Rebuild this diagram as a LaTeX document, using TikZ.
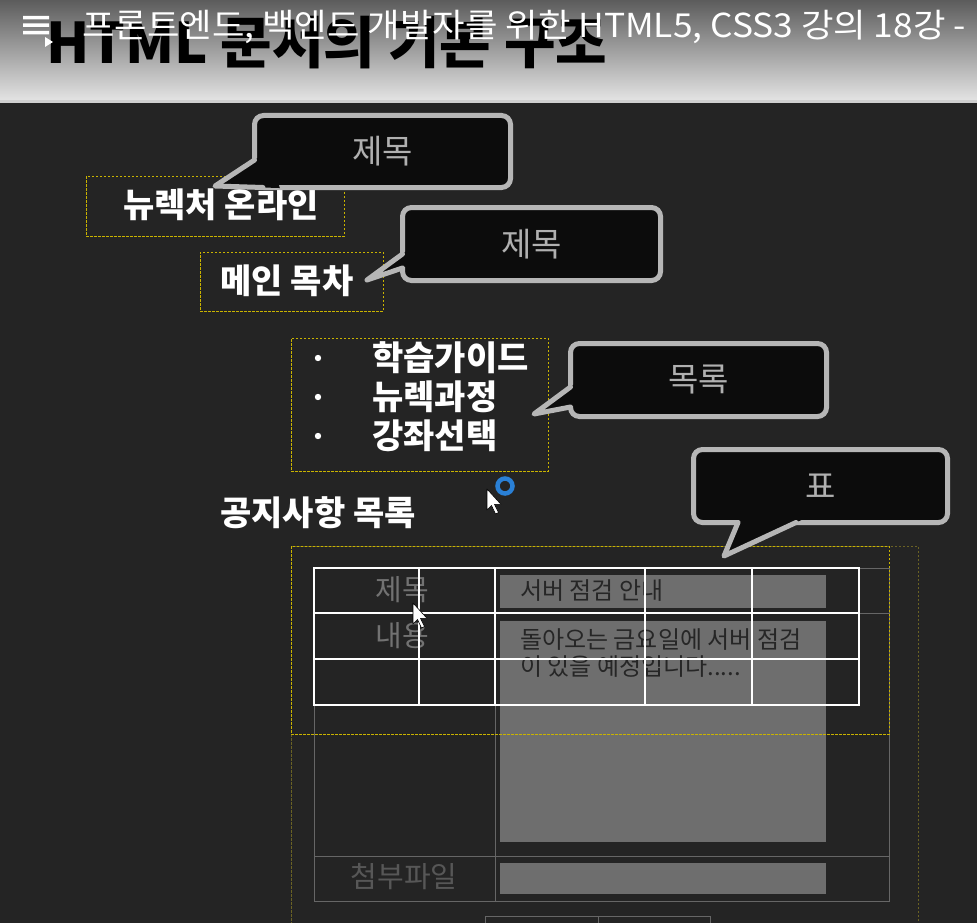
\documentclass[tikz,border=0pt]{standalone}
\usepackage{fontspec}
\setmainfont{Noto Sans CJK KR}
\usetikzlibrary{calc}
\newcommand\myfs[1]{\fontsize{#1}{#1}\selectfont}
\definecolor{bg}{HTML}{242424}
\definecolor{tbtop}{HTML}{5C5C5C}
\definecolor{tbbot}{HTML}{E4E4E4}
\definecolor{tbline}{HTML}{CFCFCF}
\definecolor{cfill}{HTML}{0C0C0C}
\definecolor{cborder}{HTML}{B6B6B6}
\definecolor{ctext}{HTML}{B0B0B0}
\definecolor{ylw}{HTML}{C9B300}
\definecolor{ylwdim}{HTML}{6A6224}
\definecolor{gln}{HTML}{666666}
\definecolor{gfld}{HTML}{6E6E6E}
\definecolor{glab}{HTML}{727272}
\definecolor{ftx}{HTML}{262626}
\definecolor{ringblue}{HTML}{2A80D6}
\newcommand\ctail[3]{%
  \fill[cfill] (#2) -- ($(#2)!1.35!(#1)$) -- ($(#2)!1.35!(#3)$) -- cycle;
  \draw[cborder, line width=5pt, line join=round, line cap=round] (#1) -- (#2) -- (#3);
}
\begin{document}
\begin{tikzpicture}[x=1pt,y=-1pt,
  callout/.style={fill=cfill, draw=cborder, line width=5pt, rounded corners=9pt, inner sep=0pt, text=ctext, font=\myfs{33}},
  ybox/.style={draw=ylw, line width=0.9pt, dash pattern=on 2.5pt off 1.5pt, inner sep=0pt},
  wtxt/.style={text=white, font=\myfs{34}\bfseries, inner sep=0pt},
  glabel/.style={text=glab, font=\myfs{29}, inner sep=0pt},
  ftext/.style={text=ftx, font=\myfs{24}, inner sep=0pt, anchor=west},
  gline/.style={draw=gln, line width=1pt},
  wline/.style={draw=white, line width=1.4pt},
  gfield/.style={fill=gfld},
  cursor/.style={fill=white, draw=black, line width=0.6pt, line join=round},
]
\useasboundingbox (0,0) rectangle (977,923);
\clip (0,0) rectangle (977,923);
\fill[bg] (0,0) rectangle (977,923);
% top bar
\shade[top color=tbtop, bottom color=tbbot] (0,0) rectangle (977,101);
\fill[tbline] (0,100) rectangle (977,103);
\node[anchor=base west, inner sep=0pt, text=black, font=\myfs{56}\bfseries] (bigtitle) at (46,64) {HTML 문서의 기본 구조};
\node[anchor=base west, inner sep=0pt, text=white, font=\myfs{33}] (ytitle) at (82,38) {\scalebox{1.07}[1]{프론트엔드, 백엔드 개발자를 위한 HTML5, CSS3 강의 18강 -}};
\fill[white] (23,16) rectangle (49,19.5) (23,23.5) rectangle (49,27) (23,31) rectangle (49,34.5);
\fill[white] (45,37) -- (45,47) -- (53,42) -- cycle;

% gray form (background)
\fill[gfield] (500,575) rectangle (826,608);
\fill[gfield] (500,621) rectangle (826,842);
\fill[gfield] (500,863) rectangle (826,894);
\draw[gline] (314,568) rectangle (889,901);
\draw[gline] (495,568) -- (495,901);
\draw[gline] (314,613) -- (889,613);
\draw[gline] (314,856) -- (889,856);
\draw[gline] (485,916) rectangle (710,945);
\draw[gline] (598,916) -- (598,945);
\node[glabel] (l1) at (402,590) {제목};
\node[glabel] (l2) at (402,636) {내용};
\node[glabel, text=gln!85!black] (l3) at (404,877) {첨부파일};
\node[ftext] (f1) at (520,591) {서버 점검 안내};
\node[ftext] (f2) at (520,640) {돌아오는 금요일에 서버 점검};
\node[ftext] (f3) at (520,667) {이 있을 예정입니다.....};

% white table overlay
\draw[wline] (314,568) rectangle (859,705);
\draw[wline] (314,613) -- (859,613);
\draw[wline] (314,659) -- (859,659);
\foreach \xx in {419,495,645,752} \draw[wline] (\xx,568) -- (\xx,705);

% yellow dashed boxes
\draw[ybox, draw=ylwdim] (291,546) rectangle (918,960);
\draw[ybox] (291,546) rectangle (889,734);
\node[ybox, minimum width=258pt, minimum height=60pt] (d1) at (215,206) {};
\node[wtxt] (t1) at (221,205) {뉴렉처 온라인};
\node[ybox, minimum width=183pt, minimum height=59pt] (d2) at (291.5,281.5) {};
\node[wtxt] (t2) at (287,281) {메인 목차};
\node[ybox, minimum width=257pt, minimum height=133pt] (d3) at (419.5,404.5) {};
\foreach \yy/\tt [count=\i] in {358/학습가이드, 397/뉴렉과정, 436/강좌선택} {
  \fill[white] (318,\yy) circle (3.2pt);
  \node[wtxt, anchor=west] (li\i) at (372,\yy) {\tt};
}
\node[wtxt] (notice) at (318,513) {공지사항 목록};

% callouts
\node[callout, minimum width=256pt, minimum height=72pt] (c1) at (382.5,151.5) {제목};
\coordinate (c1a) at (254.5,160); \coordinate (c1t) at (215,186); \coordinate (c1b) at (263,187.5);
\ctail{c1a}{c1t}{c1b}
\node[callout, minimum width=258pt, minimum height=73pt] (c2) at (531.5,244) {제목};
\coordinate (c2a) at (402.5,254); \coordinate (c2t) at (367,280); \coordinate (c2b) at (402.5,268);
\ctail{c2a}{c2t}{c2b}
\node[callout, minimum width=256pt, minimum height=73pt] (c3) at (698.5,380) {목록};
\coordinate (c3a) at (570.5,387); \coordinate (c3t) at (534,414); \coordinate (c3b) at (570.5,407);
\ctail{c3a}{c3t}{c3b}
\node[callout, minimum width=254pt, minimum height=73pt] (c4) at (820.5,486) {표};
\coordinate (c4a) at (796,522.5); \coordinate (c4t) at (724,556); \coordinate (c4b) at (738,522.5);
\ctail{c4a}{c4t}{c4b}

% cursors
\draw[ringblue, line width=4.5pt] (505,486) circle (7.5pt);
\draw[cursor] (487,489) -- ++(0,21) -- ++(4.5,-4.5) -- ++(4,8.5) -- ++(3,-1.4) -- ++(-4,-8.3) -- ++(6.5,0) -- cycle;
\draw[cursor] (413,603) -- ++(0,21) -- ++(4.5,-4.5) -- ++(4,8.5) -- ++(3,-1.4) -- ++(-4,-8.3) -- ++(6.5,0) -- cycle;
\end{tikzpicture}
\end{document}
